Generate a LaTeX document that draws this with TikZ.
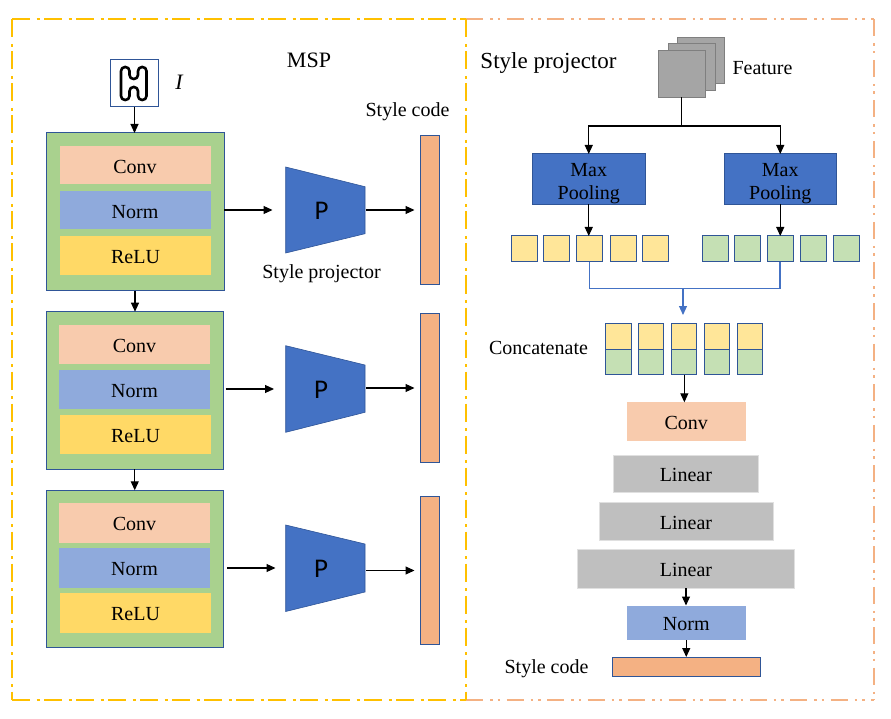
\documentclass[tikz,border=0pt]{standalone}
\usepackage{fontspec}
\setmainfont{Liberation Serif}
\newfontfamily\carl{Carlito}
\usetikzlibrary{arrows.meta}
\definecolor{fgreen}{HTML}{A9D18E}
\definecolor{fblue}{HTML}{4472C4}
\definecolor{edgeb}{HTML}{2F5597}
\definecolor{fconv}{HTML}{F8CBAD}
\definecolor{fnorm}{HTML}{8FAADC}
\definecolor{frelu}{HTML}{FFD966}
\definecolor{fcode}{HTML}{F4B183}
\definecolor{fyel}{HTML}{FFE699}
\definecolor{fgrn}{HTML}{C5E0B4}
\definecolor{fgray}{HTML}{BFBFBF}
\definecolor{fdark}{HTML}{A5A5A5}
\definecolor{egray}{HTML}{7F7F7F}
\definecolor{frameY}{HTML}{FFC000}
\definecolor{frameO}{HTML}{F4B183}
\newcommand{\bx}[7]{\node[#2,minimum width={(#5)-(#3)},minimum height={(#6)-(#4)}] (#1) at ({((#3)+(#5))/2},{((#4)+(#6))/2}) {#7};}
\tikzset{
  x=1pt,y=-1pt,
  base/.style={inner sep=0pt,outer sep=0pt,font=\fontsize{20}{23}\selectfont,text=black,align=center},
  txt/.style={base},
  lab/.style={base,text height=16pt,text depth=0pt},
  block/.style={base,fill=fgreen,draw=edgeb,line width=1pt},
  conv/.style={lab,fill=fconv},
  norm/.style={lab,fill=fnorm},
  relu/.style={lab,fill=frelu},
  codebar/.style={base,fill=fcode,draw=edgeb,line width=1pt},
  pool/.style={base,fill=fblue,draw=edgeb,line width=1pt},
  ysq/.style={base,fill=fyel,draw=edgeb,line width=1pt},
  gsq/.style={base,fill=fgrn,draw=edgeb,line width=1pt},
  linr/.style={lab,fill=fgray,draw=black!12,line width=1pt},
  feat/.style={base,fill=fdark,draw=egray,line width=1pt},
  imgbox/.style={base,fill=white,draw=edgeb,line width=1pt},
  pshape/.style={fill=fblue,draw=edgeb,line width=0.6pt},
  pnode/.style={inner sep=0pt,outer sep=0pt,font=\carl\fontsize{27}{28}\selectfont},
  arr/.style={draw=black,line width=1.1pt,-{Triangle[length=9pt,width=8pt]}},
  ln/.style={draw=black,line width=1.1pt},
  barr/.style={draw=fblue,line width=1.1pt,-{Triangle[length=9pt,width=8pt]}},
  bln/.style={draw=fblue,line width=1.1pt},
  yframe/.style={draw=frameY,line width=2pt,dash pattern=on 18pt off 6.5pt on 3pt off 4.5pt},
  oframe/.style={draw=frameO,line width=2pt,dash pattern=on 17pt off 7pt on 2.5pt off 5pt on 2.5pt off 6.5pt},
}
\begin{document}
\begin{tikzpicture}
\useasboundingbox (0,0) rectangle (891,719);
% frames
\draw[oframe] (466,19.5) -- (874,19.5);
\draw[oframe] (874,19.5) -- (874,700.3);
\draw[oframe] (466,700.3) -- (874,700.3);
\draw[yframe] (12,19.5) -- (466,19.5);
\draw[yframe] (12,19.5) -- (12,700.3);
\draw[yframe] (12,700.3) -- (466,700.3);
\draw[yframe] (466,19.5) -- (466,700.3);
% input
\bx{img}{imgbox}{110.5}{59.5}{158.5}{107}{}
\draw[black,line width=2.6pt,rounded corners=4pt,line join=round]
  (121,67) -- (129.5,67) -- (129.5,79) -- (138,79) -- (138,67) -- (146.5,67) -- (146.5,100) -- (138,100) -- (138,87) -- (129.5,87) -- (129.5,100) -- (121,100) -- cycle;
\node[txt,font=\fontsize{22}{25}\selectfont\itshape] (lI) at (179,82) {I};
\node[txt,font=\fontsize{22}{25}\selectfont] (lmsp) at (309,60) {MSP};
\node[txt] (lsc) at (407.5,112) {Style code};
\node[txt] (lsp) at (321.5,273.5) {Style projector};
% blocks
\bx{b1}{block}{46}{133}{224}{290.5}{}
\bx{c1}{conv}{59.5}{146}{210.5}{184.5}{Conv}
\bx{n1}{norm}{59.5}{191}{210.5}{229.5}{Norm}
\bx{r1}{relu}{60}{236}{211}{275}{ReLU}
\bx{b2}{block}{46}{311.7}{223.5}{469.3}{}
\bx{c2}{conv}{59}{324.5}{210}{363.5}{Conv}
\bx{n2}{norm}{59}{369.5}{210}{408.5}{Norm}
\bx{r2}{relu}{60}{414.5}{211}{453.5}{ReLU}
\bx{b3}{block}{46}{490.3}{223.5}{647.7}{}
\bx{c3}{conv}{59}{503}{210}{542.5}{Conv}
\bx{n3}{norm}{59}{548}{210}{587.5}{Norm}
\bx{r3}{relu}{60}{593}{211}{632.5}{ReLU}
% projectors
\draw[pshape] (285.7,167) -- (365,186.7) -- (365,233.7) -- (285.7,253) -- cycle;
\draw[pshape] (285.7,345.7) -- (365,365) -- (365,412.3) -- (285.7,432.3) -- cycle;
\draw[pshape] (285.7,525) -- (365,544) -- (365,592) -- (285.7,611.5) -- cycle;
\node[pnode] (p1) at (321.5,210.5) {P};
\node[pnode] (p2) at (321,389.5) {P};
\node[pnode] (p3) at (321,568.5) {P};
% code bars
\bx{s1}{codebar}{420.3}{135.7}{439.7}{284}{}
\bx{s2}{codebar}{420.3}{313.7}{439.7}{462}{}
\bx{s3}{codebar}{420.3}{496.7}{439.7}{644.7}{}
% free ends of the horizontal connectors
\coordinate (a1s) at (224,210);   \coordinate (a1e) at (272.5,210);
\coordinate (a2s) at (225.5,389); \coordinate (a2e) at (274,389);
\coordinate (a3s) at (227,568);   \coordinate (a3e) at (275.5,568);
\coordinate (o1s) at (366,210);   \coordinate (o1e) at (414.5,210);
\coordinate (o2s) at (366,388);   \coordinate (o2e) at (414.5,388);
\coordinate (o3s) at (366,570.5); \coordinate (o3e) at (414.5,570.5);
% left connectors
\draw[arr] (img.south) -- (img.south |- b1.north);
\draw[arr] (b1.south) -- (b1.south |- b2.north);
\draw[arr] (b2.south) -- (b2.south |- b3.north);
\draw[arr] (a1s) -- (a1e);
\draw[arr] (a2s) -- (a2e);
\draw[arr] (a3s) -- (a3e);
\draw[arr] (o1s) -- (o1e);
\draw[arr] (o2s) -- (o2e);
\draw[arr] (o3s) -- (o3e);
% right panel
\node[txt,font=\fontsize{23}{25}\selectfont] (lstyle) at (548.5,63) {Style projector};
\bx{f3}{feat}{677.5}{37.5}{724.5}{84}{}
\bx{f2}{feat}{668}{44}{715}{90.5}{}
\bx{f1}{feat}{658}{51}{705}{97.5}{}
\node[txt] (lfeat) at (762.5,68.5) {Feature};
\bx{mp1}{pool}{532.5}{154}{645}{204.3}{\rule{0pt}{22pt}Max\\Pooling}
\bx{mp2}{pool}{724}{154}{836.5}{204.3}{\rule{0pt}{22pt}Max\\Pooling}
\coordinate (fork) at (681.5,126);
\draw[ln] (f1.south) -- (fork);
\draw[arr] (fork) -| (mp1.north);
\draw[arr] (fork) -| (mp2.north);
% pooled squares
\bx{y1}{ysq}{511}{236}{537}{262}{}
\bx{y2}{ysq}{543.5}{236}{569.5}{262}{}
\bx{y3}{ysq}{576.5}{236}{602.5}{262}{}
\bx{y4}{ysq}{610}{236}{636}{262}{}
\bx{y5}{ysq}{642.5}{236}{668.5}{262}{}
\bx{g1}{gsq}{702}{236}{728}{262}{}
\bx{g2}{gsq}{734.5}{236}{760.5}{262}{}
\bx{g3}{gsq}{767}{236}{793}{262}{}
\bx{g4}{gsq}{800.5}{236}{826.5}{262}{}
\bx{g5}{gsq}{833}{236}{859}{262}{}
\draw[arr] (mp1.south) -- (mp1.south |- y3.north);
\draw[arr] (mp2.south) -- (mp2.south |- g3.north);
\coordinate (merge) at (683,288.8);
\draw[bln] (y3.south) |- (merge);
\draw[bln] (g3.south) |- (merge);
\coordinate (mergeend) at (683,315);
\draw[barr] (merge) -- (mergeend);
% concatenated
\node[txt] (lcat) at (538.5,348) {Concatenate};
\bx{cy1}{ysq}{605.7}{323}{631.3}{349.3}{}
\bx{cy2}{ysq}{638}{323}{663.7}{349.3}{}
\bx{cy3}{ysq}{671}{323}{696.7}{349.3}{}
\bx{cy4}{ysq}{704}{323}{729.7}{349.3}{}
\bx{cy5}{ysq}{737}{323}{762.7}{349.3}{}
\bx{cg1}{gsq}{605.7}{349.3}{631.3}{374.7}{}
\bx{cg2}{gsq}{638}{349.3}{663.7}{374.7}{}
\bx{cg3}{gsq}{671}{349.3}{696.7}{374.7}{}
\bx{cg4}{gsq}{704}{349.3}{729.7}{374.7}{}
\bx{cg5}{gsq}{737}{349.3}{762.7}{374.7}{}
% stack
\bx{cv}{conv}{626.7}{402.3}{745.7}{441.3}{Conv}
\bx{l1}{linr}{613.7}{455}{758}{492.5}{Linear}
\bx{l2}{linr}{599}{502}{773}{540}{Linear}
\bx{l3}{linr}{577.5}{549}{794.5}{588}{Linear}
\bx{nr}{norm}{627}{605.5}{745.5}{640}{Norm}
\bx{sc}{codebar}{612}{657}{760.5}{676}{}
\node[txt] (lsc2) at (546.5,668.5) {Style code};
\draw[arr] ([xshift=.5pt]cg3.south) -- ([xshift=.5pt]cg3.south |- cv.north);
\draw[arr] (l3.south) -- (l3.south |- nr.north);
\draw[arr] (nr.south) -- (nr.south |- sc.north);
\end{tikzpicture}
\end{document}
